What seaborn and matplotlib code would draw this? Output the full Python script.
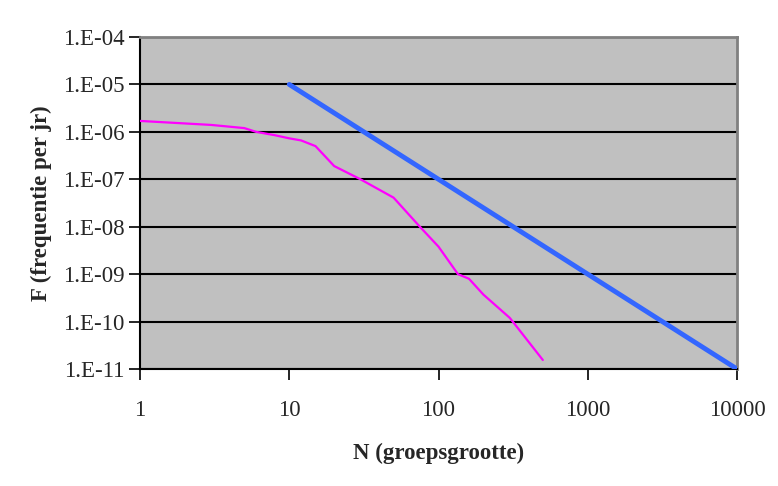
import numpy as np
import pandas as pd
import matplotlib
matplotlib.use("Agg")
import matplotlib.pyplot as plt
import seaborn as sns
from matplotlib.ticker import FixedLocator, FuncFormatter, NullLocator

# --- data ---
# FN-curve (magenta)
groep_n = [1, 3, 5, 6, 8, 10, 12, 15, 20, 30, 50, 75, 100, 135, 160, 200, 300, 320, 500]
freq_f = [1.7e-6, 1.4e-6, 1.2e-6, 1.0e-6, 8.5e-7, 7.3e-7, 6.6e-7, 5.0e-7, 1.9e-7,
          1.0e-7, 4.1e-8, 1.0e-8, 3.8e-9, 1.0e-9, 8.0e-10, 3.7e-10, 1.2e-10, 9.3e-11, 1.55e-11]

# norm line (blue)
norm_n = [10, 10000]
norm_f = [1e-5, 1e-11]

y_ticks = [1e-11, 1e-10, 1e-9, 1e-8, 1e-7, 1e-6, 1e-5, 1e-4]
x_ticks = [1, 10, 100, 1000, 10000]

df_fn = pd.DataFrame({"N": groep_n, "F": freq_f})
df_norm = pd.DataFrame({"N": norm_n, "F": norm_f})

sns.set_style("white")
plt.rcParams['font.family'] = ['Liberation Serif', 'DejaVu Serif']

fig = plt.figure(figsize=(7.78, 4.86), dpi=100)
ax = fig.add_axes([140 / 778, (486 - 369) / 486, (737 - 140) / 778, (369 - 37) / 486])
ax.set_facecolor("#C0C0C0")

ax.set_xscale("log")
ax.set_yscale("log")
ax.set_xlim(1, 10000)
ax.set_ylim(1e-11, 1e-4)

# horizontale rasterlijnen
for yv in y_ticks:
    ax.axhline(yv, color="black", lw=1.5, zorder=1)

sns.lineplot(data=df_norm, x="N", y="F", ax=ax, color="#3366FF", lw=3.5, zorder=3,
             solid_capstyle="round")
sns.lineplot(data=df_fn, x="N", y="F", ax=ax, color="#FF00FF", lw=1.6, zorder=4)

ax.xaxis.set_major_locator(FixedLocator(x_ticks))
ax.xaxis.set_minor_locator(NullLocator())
ax.yaxis.set_major_locator(FixedLocator(y_ticks))
ax.yaxis.set_minor_locator(NullLocator())
ax.xaxis.set_major_formatter(FuncFormatter(lambda v, p: f"{int(round(v))}"))
ax.yaxis.set_major_formatter(FuncFormatter(lambda v, p: "1.E-%02d" % int(round(-np.log10(v)))))

ax.tick_params(axis="both", which="major", direction="out", length=8, width=1.2,
               color="black", labelsize=16.5, bottom=True, left=True)
ax.tick_params(axis="x", pad=14)
ax.tick_params(axis="y", pad=3)

for side in ["left", "bottom"]:
    ax.spines[side].set_color("black")
    ax.spines[side].set_linewidth(1.5)
for side in ["top", "right"]:
    ax.spines[side].set_color("#808080")
    ax.spines[side].set_linewidth(2)

ax.set_xlabel("N (groepsgrootte)", fontsize=16.5, fontweight="bold", labelpad=16)
ax.set_ylabel("F (frequentie per jr)", fontsize=16.5, fontweight="bold", labelpad=8)

fig.savefig("out.png", dpi=100)
